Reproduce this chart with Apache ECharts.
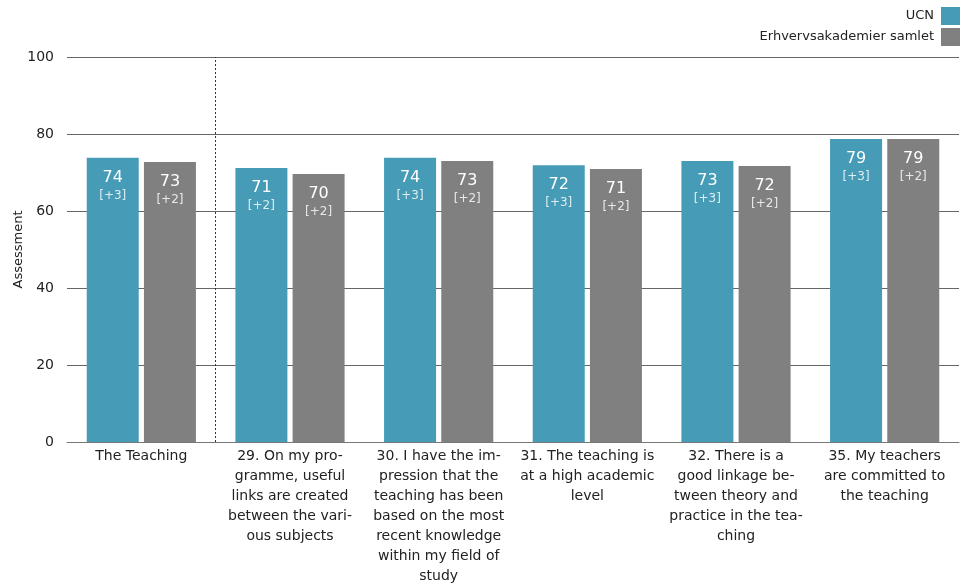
<!DOCTYPE html>
<html><head><meta charset="utf-8">
<script src="https://cdn.jsdelivr.net/npm/echarts@6/dist/echarts.min.js"></script>
<style>html,body{margin:0;padding:0;background:#fff}#c{width:967px;height:587px}</style>
</head><body><div id="c"></div>
<script>
const categories = [
  "The Teaching",
  "29. On my pro-\ngramme, useful\nlinks are created\nbetween the vari-\nous subjects",
  "30. I have the im-\npression that the\nteaching has been\nbased on the most\nrecent knowledge\nwithin my field of\nstudy",
  "31. The teaching is\nat a high academic\nlevel",
  "32. There is a\ngood linkage be-\ntween theory and\npractice in the tea-\nching",
  "35. My teachers\nare committed to\nthe teaching"
];
const seriesNames = ["UCN", "Erhvervsakademier samlet"];
const ucnValues = [73.8, 71.2, 73.8, 71.9, 73.0, 78.7];
const ucnLabels = ["74", "71", "74", "72", "73", "79"];
const ucnDiff = ["+3", "+2", "+3", "+3", "+3", "+3"];
const allValues = [72.7, 69.6, 73.0, 70.9, 71.7, 78.7];
const allLabels = ["73", "70", "73", "71", "72", "79"];
const allDiff = ["+2", "+2", "+2", "+2", "+2", "+2"];
const yTicks = [0, 20, 40, 60, 80, 100];
const separatorAfter = [1];

const FONT = "DejaVu Sans";
const chart = echarts.init(document.getElementById('c'), null, {renderer: 'canvas'});

function mkLabel(lbls, diffs) {
  return {
    show: true,
    position: 'insideTop',
    distance: 9,
    formatter: p => '{v|' + lbls[p.dataIndex] + '}\n{d|[' + diffs[p.dataIndex] + ']}',
    rich: {
      v: {fontFamily: FONT, fontSize: 16, color: '#ffffff', lineHeight: 21},
      d: {fontFamily: FONT, fontSize: 12, color: 'rgba(255,255,255,0.82)', lineHeight: 16}
    }
  };
}

chart.setOption({
  animation: false,
  textStyle: {fontFamily: FONT},
  legend: {
    orient: 'vertical',
    right: 2,
    top: 2,
    align: 'right',
    itemWidth: 19,
    itemHeight: 18,
    itemGap: 3,
    icon: 'rect',
    textStyle: {fontFamily: FONT, fontSize: 13, color: '#222', padding: [0, 2, 0, 0]},
    data: seriesNames
  },
  grid: {left: 67, right: 8, top: 57, bottom: 145, containLabel: false, outerBoundsMode: 'none'},
  xAxis: [{
    type: 'category',
    data: categories,
    axisLine: {show: true, lineStyle: {color: '#777', width: 1}},
    axisTick: {show: false},
    axisLabel: {
      interval: 0,
      fontFamily: FONT,
      fontSize: 14,
      color: '#222',
      lineHeight: 20,
      margin: 4,
      align: 'center',
      verticalAlign: 'top'
    },
    splitLine: {show: false}
  }, {
    type: 'value',
    min: 0,
    max: categories.length,
    show: false
  }],
  yAxis: {
    type: 'value',
    min: yTicks[0],
    max: yTicks[yTicks.length - 1],
    interval: 20,
    name: 'Assessment',
    nameLocation: 'middle',
    nameGap: 42,
    nameMoveOverlap: false,
    nameTextStyle: {fontFamily: FONT, fontSize: 13, color: '#222'},
    axisLine: {show: false},
    axisTick: {show: false},
    axisLabel: {fontFamily: FONT, fontSize: 14, color: '#222', margin: 13},
    splitLine: {show: true, lineStyle: {color: '#666', width: 1}}
  },
  series: [
    {
      name: seriesNames[0],
      type: 'bar',
      data: ucnValues,
      barWidth: 52,
      barGap: '10%',
      itemStyle: {color: '#469bb6'},
      label: mkLabel(ucnLabels, ucnDiff),
      z: 3
    },
    {
      name: seriesNames[1],
      type: 'bar',
      data: allValues,
      barWidth: 52,
      barGap: '10%',
      itemStyle: {color: '#808080'},
      label: mkLabel(allLabels, allDiff),
      z: 3
    },
    {
      name: 'separator',
      type: 'line',
      xAxisIndex: 1,
      data: [],
      silent: true,
      markLine: {
        symbol: 'none',
        silent: true,
        label: {show: false},
        lineStyle: {color: '#333', type: [2, 2], width: 1},
        data: separatorAfter.map(v => ({xAxis: v}))
      }
    }
  ]
});
</script></body></html>
